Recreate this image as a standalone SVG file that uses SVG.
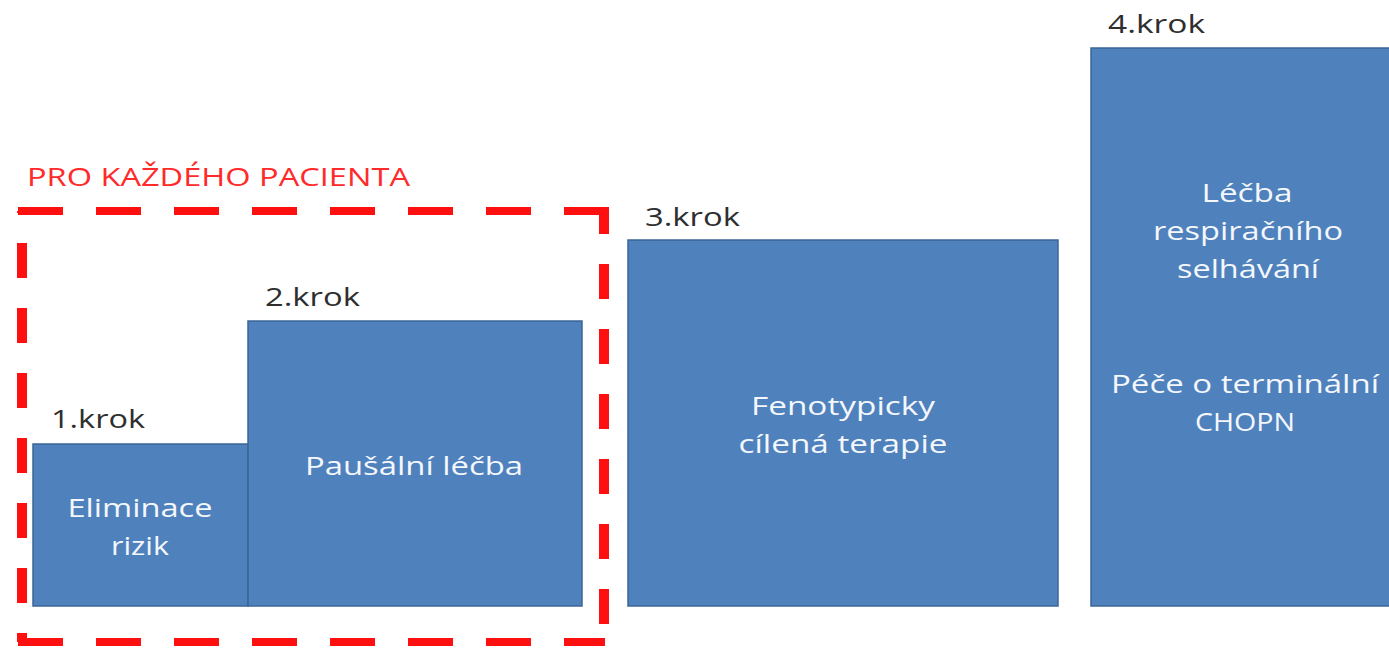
<svg xmlns="http://www.w3.org/2000/svg" width="1389" height="650" viewBox="0 0 1389 650">
  <style>
    .box { fill: #4F81BD; stroke: #3B6696; stroke-width: 1.5; }
    .in { font-family: "Open Sans", "Liberation Sans", sans-serif; font-size: 26px; font-weight: 500; fill: #F4F7FB; text-anchor: middle; }
    .step { font-family: "Open Sans", "Liberation Sans", sans-serif; font-size: 26px; font-weight: 500; fill: #2E2E2E; }
    .grp { font-family: "Open Sans", "Liberation Sans", sans-serif; font-size: 25px; fill: #FF2A2A; }
    .dashH { stroke: #FF1010; stroke-width: 8; fill: none; stroke-dasharray: 45 33; }
    .dashV { stroke: #FF1010; stroke-width: 10; fill: none; stroke-dasharray: 35 30; }
  </style>
  <rect width="1389" height="650" fill="#FFFFFF"/>

  <!-- dashed frame around the steps that apply to every patient -->
  <g id="frame">
    <text class="grp" x="27" y="186" textLength="383" lengthAdjust="spacingAndGlyphs">PRO KAŽDÉHO PACIENTA</text>
    <path class="dashH" d="M18 211 H605"/>
    <path class="dashV" d="M604 207 V642" stroke-dashoffset="8"/>
    <path class="dashV" d="M22 211 V642" stroke-dashoffset="-32"/>
    <path class="dashH" d="M18 642 H605"/>
  </g>

  <g id="step1">
    <text class="step" x="51" y="428" textLength="94" lengthAdjust="spacingAndGlyphs">1.krok</text>
    <rect class="box" x="33" y="444" width="215" height="162"/>
    <text class="in" x="140" y="517" textLength="145" lengthAdjust="spacingAndGlyphs">Eliminace</text>
    <text class="in" x="140" y="555" textLength="58" lengthAdjust="spacingAndGlyphs">rizik</text>
  </g>

  <g id="step2">
    <text class="step" x="265" y="306" textLength="95" lengthAdjust="spacingAndGlyphs">2.krok</text>
    <rect class="box" x="248" y="321" width="334" height="285"/>
    <text class="in" x="414" y="475" textLength="218" lengthAdjust="spacingAndGlyphs">Paušální léčba</text>
  </g>

  <g id="step3">
    <text class="step" x="645" y="226" textLength="95" lengthAdjust="spacingAndGlyphs">3.krok</text>
    <rect class="box" x="628" y="240" width="430" height="366"/>
    <text class="in" x="843" y="415" textLength="184" lengthAdjust="spacingAndGlyphs">Fenotypicky</text>
    <text class="in" x="843" y="453" textLength="209" lengthAdjust="spacingAndGlyphs">cílená terapie</text>
  </g>

  <g id="step4">
    <text class="step" x="1108" y="33" textLength="97" lengthAdjust="spacingAndGlyphs">4.krok</text>
    <rect class="box" x="1091" y="48" width="310" height="558"/>
    <text class="in" x="1247" y="202" textLength="91" lengthAdjust="spacingAndGlyphs">Léčba</text>
    <text class="in" x="1248" y="240" textLength="190" lengthAdjust="spacingAndGlyphs">respiračního</text>
    <text class="in" x="1248" y="278" textLength="142" lengthAdjust="spacingAndGlyphs">selhávání</text>
    <text class="in" x="1245" y="393" textLength="268" lengthAdjust="spacingAndGlyphs">Péče o terminální</text>
    <text class="in" x="1245" y="431" textLength="100" lengthAdjust="spacingAndGlyphs">CHOPN</text>
  </g>

  <g id="connectors"/>
</svg>
